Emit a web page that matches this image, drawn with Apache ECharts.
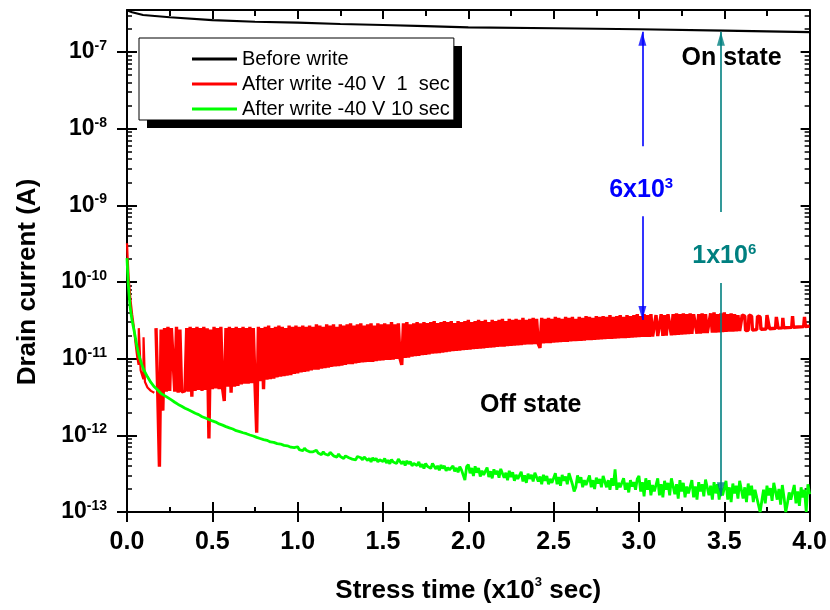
<!DOCTYPE html>
<html><head><meta charset="utf-8">
<script src="https://cdn.jsdelivr.net/npm/echarts@6/dist/echarts.min.js"></script>
<style>html,body{margin:0;padding:0;background:#fff}#c{width:830px;height:610px}</style>
</head><body><div id="c"></div>
<script>
const FONT = 'Arial, "Liberation Sans", sans-serif';

// ---------- axes ----------
const xMin = 0, xMax = 4.0, xInterval = 0.5;          // stress time (x10^3 sec)
const yMin = 1e-13, yMax = 3.53e-7;                   // drain current (A)
const yDecades = [-13, -12, -11, -10, -9, -8, -7];    // tick labels 10^n
const minorMantissas = [2, 3, 4, 5, 6, 7, 8, 9];

const seriesNames = ['Before write', 'After write -40 V  1  sec', 'After write -40 V 10 sec'];

// ---------- Before write: [time, current (A)] ----------
const beforeWrite = [[0, 3.5e-7], [0.03, 3.3e-7], [0.094, 3.04e-7], [0.25, 2.84e-7], [0.5, 2.61e-7],
  [0.75, 2.48e-7], [1.0, 2.41e-7], [1.25, 2.32e-7], [1.5, 2.25e-7], [1.75, 2.18e-7], [2.0, 2.10e-7],
  [2.5, 2.04e-7], [3.0, 1.98e-7], [3.5, 1.90e-7], [4.0, 1.82e-7]];

// ---------- After write -40 V 1 sec ----------
// early decay: [time, current (A)]
const redEarly = [[0.0, 3.2e-10], [0.004, 2.0e-10], [0.010, 1.1e-10], [0.020, 6.0e-11], [0.030, 3.8e-11],
  [0.040, 2.6e-11], [0.050, 1.6e-11], [0.060, 1.05e-11], [0.068, 8.3e-12], [0.069, 2.5e-11], [0.079, 2.5e-11],
  [0.080, 7.0e-12], [0.096, 5.4e-12], [0.097, 1.9e-11], [0.104, 1.9e-11], [0.105, 5.0e-12], [0.12, 4.2e-12],
  [0.14, 3.8e-12], [0.16, 3.6e-12]];
// noisy band sampled every 0.01 from t = 0.17, values in units of 1e-11 A
const redBandStart = 0.17, redBandStep = 0.01;
const redBand = [
  2.5, 0.37, 0.039, 2.4, 0.21, 2.5, 0.37, 2.6, 0.38, 2.5,
  2.5, 0.37, 2.6, 0.36, 2.4, 0.37, 0.37, 0.38, 2.5, 0.37,
  2.6, 0.32, 2.5, 0.38, 2.6, 0.39, 2.5, 0.38, 2.6, 0.39,
  2.5, 0.091, 2.4, 0.40, 2.6, 0.41, 2.5, 0.40, 2.6, 0.41,
  0.28, 2.5, 0.43, 2.6, 0.36, 2.5, 0.43, 2.6, 0.44, 2.5,
  0.46, 2.6, 0.47, 2.5, 0.47, 2.6, 0.48, 2.5, 0.48, 0.108,
  2.6, 0.51, 2.5, 0.40, 2.6, 0.53, 2.7, 0.54, 2.5, 0.55,
  2.6, 0.57, 2.7, 0.58, 2.6, 0.59, 2.5, 0.60, 2.7, 0.61,
  2.6, 0.63, 2.7, 0.64, 2.6, 0.66, 2.7, 0.67, 2.6, 0.68,
  2.7, 0.70, 2.6, 0.72, 2.8, 0.72, 2.7, 0.74, 2.6, 0.75,
  2.8, 0.76, 2.7, 0.78, 2.8, 0.79, 2.6, 0.80, 2.8, 0.81,
  2.7, 0.83, 2.8, 0.85, 2.9, 0.85, 2.7, 0.87, 2.8, 0.88,
  2.9, 0.89, 2.7, 0.90, 2.8, 0.91, 2.9, 0.91, 2.7, 0.93,
  2.9, 0.94, 2.8, 0.95, 2.9, 0.96, 2.8, 0.96, 3.0, 0.97,
  2.8, 0.99, 2.9, 1.0, 0.83, 2.9, 1.02, 3.0, 1.03, 2.8,
  1.06, 2.9, 1.08, 3.0, 1.09, 2.9, 1.11, 3.0, 1.12, 2.9,
  1.14, 3.0, 1.16, 3.1, 1.17, 2.9, 1.18, 3.0, 1.20, 3.1,
  1.22, 3.0, 1.23, 3.1, 1.25, 2.9, 1.26, 3.1, 1.27, 3.0,
  1.29, 3.1, 1.30, 3.2, 1.31, 3.0, 1.33, 3.1, 1.34, 3.2,
  1.35, 3.1, 1.36, 3.2, 1.38, 3.0, 1.39, 3.2, 1.40, 3.1,
  1.42, 3.2, 1.43, 3.3, 1.44, 3.1, 1.46, 3.3, 1.47, 3.2,
  1.48, 3.3, 1.49, 3.2, 1.50, 3.4, 1.52, 3.2, 1.53, 3.3,
  1.54, 3.4, 1.55, 3.3, 1.56, 1.38, 3.4, 1.58, 3.3, 1.59,
  3.4, 1.60, 3.3, 1.62, 3.5, 1.63, 3.4, 1.64, 3.3, 1.65,
  3.5, 1.66, 3.4, 1.68, 3.5, 1.69, 3.3, 1.70, 3.5, 1.71,
  3.4, 1.72, 3.6, 1.74, 3.5, 1.75, 3.4, 1.76, 3.6, 1.77,
  3.5, 1.78, 3.6, 1.80, 3.5, 1.81, 3.7, 1.81, 3.5, 1.83,
  3.6, 1.84, 3.7, 1.85, 3.5, 1.86, 3.7, 1.87, 3.6, 1.88,
  3.7, 1.89, 3.8, 1.91, 3.6, 1.92, 3.8, 1.93, 3.7, 1.93,
  3.8, 1.95, 1.96, 3.7, 1.97, 1.98, 3.8, 1.99, 3.7, 2.00,
  3.8, 3.9, 2.02, 3.8, 2.03, 3.9, 2.05, 3.8, 2.06, 3.9,
  2.07, 3.8, 2.09, 3.9, 2.10, 3.8, 3.9, 2.12, 3.8, 2.13,
  3.9, 2.15, 3.8, 2.16, 2.17, 3.9, 2.18, 4.0, 2.19, 3.8,
  2.21, 3.9, 2.22, 4.0, 2.24, 3.8, 2.25, 3.9, 2.26, 3.8,
  2.28, 3.7, 2.29];
// sparse pulses at the end: [time, current in 1e-11 A]
const redTail = [[3.60, 2.30], [3.605, 3.7], [3.62, 3.6], [3.625, 2.32], [3.64, 2.34], [3.645, 3.7],
  [3.66, 3.6], [3.665, 2.36], [3.69, 2.39], [3.695, 3.6], [3.71, 3.5], [3.715, 2.41], [3.745, 2.44],
  [3.75, 3.7], [3.76, 3.6], [3.765, 2.46], [3.80, 2.49], [3.805, 3.5], [3.81, 3.5], [3.815, 2.50],
  [3.84, 2.52], [3.843, 3.4], [3.848, 2.53], [3.895, 2.56], [3.90, 3.6], [3.905, 2.57], [3.965, 2.62],
  [3.97, 3.5], [3.975, 2.63], [4.0, 2.66]];

// ---------- After write -40 V 10 sec ----------
const greenEarly = [[0.0, 2.05e-10], [0.004, 1.3e-10], [0.008, 9.0e-11], [0.018, 4.8e-11], [0.028, 3.3e-11],
  [0.037, 2.6e-11], [0.047, 2.0e-11], [0.057, 1.5e-11], [0.07, 1.1e-11], [0.085, 8.6e-12], [0.10, 7.0e-12],
  [0.12, 5.8e-12], [0.14, 4.9e-12], [0.16, 4.3e-12], [0.18, 3.9e-12], [0.20, 3.5e-12], [0.23, 3.2e-12],
  [0.26, 2.9e-12], [0.28, 2.7e-12]];
// sampled every 0.02 from t = 0.30 to 0.98, values in units of 1e-13 A
const greenMidStart = 0.30, greenMidStep = 0.02;
const greenMid = [
  25.3, 24.0, 22.6, 21.5, 20.5, 19.4, 18.6, 17.5, 16.8, 16.1,
  15.4, 14.9, 14.1, 13.6, 13.0, 12.5, 12.1, 11.5, 11.2, 10.8,
  10.5, 10.1, 9.8, 9.4, 9.1, 8.8, 8.6, 8.2, 8.1, 7.8,
  7.7, 7.4, 7.3, 7.0, 6.9];
// sampled every 0.01 from t = 1.00 to 4.00, values in units of 1e-13 A
const greenLateStart = 1.00, greenLateStep = 0.01;
const greenLate = [
  7.1, 6.5, 6.8, 6.3, 6.8, 6.4, 6.6, 6.1, 6.4, 6.1,
  6.1, 6.4, 5.9, 6.1, 5.6, 6.1, 5.7, 5.9, 5.5, 6.0,
  5.9, 5.4, 5.6, 5.2, 5.7, 5.3, 5.5, 5.0, 5.4, 5.1,
  5.1, 5.4, 4.9, 5.2, 4.8, 5.3, 5.0, 5.1, 4.8, 5.2,
  5.2, 4.7, 5.0, 4.5, 5.1, 4.7, 5.0, 4.5, 4.8, 4.55,
  4.55, 5.0, 4.35, 4.75, 4.25, 4.85, 4.5, 4.75, 4.3, 4.9,
  4.85, 4.25, 4.6, 4.05, 4.65, 4.25, 4.55, 4.0, 4.3, 4.05,
  4.05, 4.5, 3.85, 4.2, 3.7, 4.3, 3.95, 4.15, 3.7, 4.3,
  4.25, 3.65, 4.0, 3.5, 4.1, 3.7, 4.0, 3.45, 3.8, 3.55,
  3.55, 4.0, 3.4, 3.75, 3.3, 3.9, 3.55, 3.75, 2.6, 3.9,
  4.15, 3.2, 3.75, 2.95, 3.95, 3.25, 3.75, 2.9, 3.45, 3.05,
  3.1, 3.8, 2.85, 3.4, 2.75, 3.6, 3.1, 3.45, 2.8, 3.65,
  3.65, 2.8, 3.25, 2.6, 3.45, 2.85, 3.3, 2.55, 3.05, 2.7,
  2.7, 3.35, 2.5, 3.0, 2.4, 3.15, 2.7, 3.05, 2.5, 3.25,
  3.25, 2.5, 2.9, 2.3, 3.05, 2.55, 2.95, 2.3, 2.7, 2.4,
  2.5, 3.2, 2.3, 2.85, 2.2, 3.05, 2.55, 2.9, 2.3, 3.2,
  3.2, 2.3, 1.85, 2.1, 3.0, 2.4, 2.85, 2.1, 2.6, 2.25,
  2.3, 3.0, 2.1, 2.6, 2.0, 2.8, 2.35, 2.7, 2.1, 2.95,
  2.95, 2.1, 2.6, 1.95, 2.75, 2.2, 3.6, 1.95, 2.4, 2.1,
  2.1, 2.75, 1.95, 2.4, 1.8, 2.6, 2.15, 2.45, 1.95, 2.7,
  2.95, 1.85, 2.45, 1.6, 2.75, 1.95, 2.6, 1.65, 2.25, 1.85,
  1.9, 2.75, 1.65, 2.3, 1.55, 2.55, 1.95, 2.4, 1.65, 2.75,
  2.75, 1.7, 2.3, 1.5, 2.6, 1.85, 2.4, 1.55, 2.15, 1.75,
  1.75, 2.6, 1.55, 2.15, 1.45, 2.45, 1.85, 2.3, 1.6, 2.65,
  2.65, 1.65, 2.2, 1.45, 2.45, 1.75, 2.3, 1.45, 2.05, 1.65,
  1.65, 2.55, 1.45, 2.1, 1.35, 2.35, 1.75, 2.2, 1.5, 2.55,
  2.55, 1.5, 2.1, 1.35, 2.35, 1.65, 2.2, 1.35, 1.95, 1.55,
  1.6, 1.0, 1.4, 1.95, 1.3, 2.2, 1.65, 2.05, 1.4, 2.4,
  2.4, 1.45, 2.0, 1.25, 2.25, 1.55, 1.0, 1.3, 1.8, 1.45,
  1.5, 2.25, 1.3, 1.85, 1.2, 2.1, 1.55, 1.95, 1.0, 2.3,
  1.7];

// ---------- annotations ----------
const arrows = [
  {color: '#0000ff', t: 3.02, from: 5.9e-9, to: 1.84e-7, up: true},
  {color: '#0000ff', t: 3.02, from: 7.2e-10, to: 3.2e-11, up: false},
  {color: '#008080', t: 3.48, from: 8.2e-10, to: 1.84e-7, up: true},
  {color: '#008080', t: 3.48, from: 9.7e-11, to: 1.6e-13, up: false}
];
const notes = [
  {base: '6x10', sup: '3', t: 3.013, v: 1.58e-9, color: '#0000ff'},
  {base: '1x10', sup: '6', t: 3.50, v: 2.19e-10, color: '#008080'},
  {base: 'On state', sup: '', t: 3.543, v: 8.4e-8, color: '#000000'},
  {base: 'Off state', sup: '', t: 2.366, v: 2.48e-12, color: '#000000'}
];

// ---------- build series data ----------
const gridPoints = (vals, start, step, unit) =>
  vals.map((v, i) => [+(start + i * step).toFixed(3), v * unit]);
const redBandData = gridPoints(redBand, redBandStart, redBandStep, 1e-11)
  .concat(redTail.map(p => [p[0], p[1] * 1e-11]));
const greenData = greenEarly
  .concat(gridPoints(greenMid, greenMidStart, greenMidStep, 1e-13))
  .concat(gridPoints(greenLate, greenLateStart, greenLateStep, 1e-13));

const logMin = Math.log10(yMin), logMax = Math.log10(yMax);
const minorVals = [];
yDecades.forEach(e => minorMantissas.forEach(m => {
  const v = e + Math.log10(m);
  if (v < logMax) minorVals.push(v);
}));

const BLACK = '#000';
function overlayY(pos, extra) {
  return Object.assign({
    type: 'value', min: logMin, max: logMax, position: pos,
    splitLine: {show: false}, axisLabel: {show: false},
    axisLine: {show: false, onZero: false}, axisTick: {show: false}
  }, extra);
}

const chart = echarts.init(document.getElementById('c'), null, {renderer: 'canvas'});
const option = {
  animation: false,
  backgroundColor: '#fff',
  textStyle: {fontFamily: FONT},
  grid: {left: 127, top: 10, right: 20, bottom: 98, containLabel: false},
  graphic: [{
    type: 'rect', left: 147, top: 46, z: 1, silent: true,
    shape: {width: 315, height: 82}, style: {fill: '#000'}
  }],
  legend: {
    orient: 'vertical', left: 139, top: 38,
    data: seriesNames,
    icon: 'rect', itemWidth: 45, itemHeight: 3, itemGap: 3,
    padding: [10, 4, 0, 53],
    backgroundColor: '#fff', borderColor: '#000', borderWidth: 1,
    textStyle: {fontFamily: FONT, fontSize: 20, color: '#000', lineHeight: 22},
    selectedMode: false, z: 5
  },
  xAxis: [
    {
      type: 'value', min: xMin, max: xMax, interval: xInterval, position: 'bottom',
      axisLine: {onZero: false, lineStyle: {color: BLACK, width: 2}},
      axisTick: {inside: false, length: 10, lineStyle: {color: BLACK, width: 2}},
      splitLine: {show: false},
      axisLabel: {
        margin: 18, color: BLACK, fontSize: 25, fontWeight: 'bold', fontFamily: FONT,
        formatter: v => v.toFixed(1)
      },
      name: '{b|Stress time (x10}{s|3}{b| sec)}',
      nameLocation: 'middle', nameGap: 64,
      nameTextStyle: {
        rich: {
          b: {fontSize: 26, fontWeight: 'bold', fontFamily: FONT, color: BLACK, lineHeight: 30},
          s: {fontSize: 13, fontWeight: 'bold', fontFamily: FONT, color: BLACK, lineHeight: 13, verticalAlign: 'top'}
        }
      }
    },
    {
      type: 'value', min: xMin, max: xMax, interval: xInterval, position: 'bottom',
      axisLine: {show: false, onZero: false},
      axisTick: {inside: true, length: 10, lineStyle: {color: BLACK, width: 2}},
      minorTick: {show: true, splitNumber: 2, length: 5, lineStyle: {color: BLACK, width: 2}},
      axisLabel: {show: false}, splitLine: {show: false}
    },
    {
      type: 'value', min: xMin, max: xMax, interval: xInterval, position: 'top',
      axisLine: {onZero: false, lineStyle: {color: BLACK, width: 2}},
      axisTick: {inside: true, length: 9, lineStyle: {color: BLACK, width: 2}},
      minorTick: {show: true, splitNumber: 2, length: 6, lineStyle: {color: BLACK, width: 2}},
      axisLabel: {show: false}, splitLine: {show: false}
    }
  ],
  yAxis: [
    {type: 'log', logBase: 10, min: yMin, max: yMax, position: 'left', show: false,
     axisLine: {onZero: false}, splitLine: {show: false}},
    overlayY('left', {
      axisLine: {show: true, onZero: false, lineStyle: {color: BLACK, width: 2}},
      axisTick: {show: true, inside: false, length: 10, customValues: yDecades, lineStyle: {color: BLACK, width: 2}},
      axisLabel: {
        show: true, customValues: yDecades, margin: 20,
        formatter: v => '{b|10}{s|' + Math.round(v) + '}',
        rich: {
          b: {fontSize: 23, fontWeight: 'bold', fontFamily: FONT, color: BLACK, lineHeight: 26},
          s: {fontSize: 14, fontWeight: 'bold', fontFamily: FONT, color: BLACK, lineHeight: 14, verticalAlign: 'top'}
        }
      },
      name: 'Drain current (A)', nameLocation: 'middle', nameGap: 86,
      nameTextStyle: {fontSize: 26, fontWeight: 'bold', fontFamily: FONT, color: BLACK, padding: [0, 42, 0, 0]}
    }),
    overlayY('left', {
      axisTick: {show: true, inside: true, length: 10, customValues: yDecades, lineStyle: {color: BLACK, width: 2}}
    }),
    overlayY('left', {
      axisTick: {show: true, inside: true, length: 5, customValues: minorVals, lineStyle: {color: BLACK, width: 1.5}}
    }),
    overlayY('right', {
      axisLine: {show: true, onZero: false, lineStyle: {color: BLACK, width: 2}},
      axisTick: {show: true, inside: true, length: 9, customValues: yDecades, lineStyle: {color: BLACK, width: 2}}
    }),
    overlayY('right', {
      axisTick: {show: true, inside: true, length: 5, customValues: minorVals, lineStyle: {color: BLACK, width: 1.5}}
    })
  ],
  series: [
    {
      name: seriesNames[0], type: 'line', xAxisIndex: 0, yAxisIndex: 0, data: beforeWrite,
      symbol: 'none', color: '#000000', lineStyle: {color: '#000000', width: 2.2}, z: 3
    },
    {
      name: seriesNames[1], type: 'line', xAxisIndex: 0, yAxisIndex: 0, data: redEarly,
      symbol: 'none', color: '#ff0000', lineStyle: {color: '#ff0000', width: 2.2}, z: 3
    },
    {
      name: seriesNames[1], type: 'line', xAxisIndex: 0, yAxisIndex: 0, data: redBandData,
      symbol: 'none', color: '#ff0000', lineStyle: {color: '#ff0000', width: 3.4}, z: 3
    },
    {
      name: seriesNames[2], type: 'line', xAxisIndex: 0, yAxisIndex: 0, data: greenData,
      symbol: 'none', color: '#00ff00', lineStyle: {color: '#00ff00', width: 2.8}, z: 4
    },
    {
      name: 'arrow lines', type: 'line', xAxisIndex: 0, yAxisIndex: 0, data: [], z: 6,
      markLine: {
        silent: true, animation: false, symbol: ['none', 'none'],
        label: {show: false},
        data: arrows.map(a => [
          {coord: [a.t, a.from], lineStyle: {color: a.color, width: 1.6, type: 'solid'}},
          {coord: [a.t, a.to]}
        ])
      },
      markPoint: {
        silent: true, animation: false,
        symbol: 'circle', symbolSize: 1, itemStyle: {color: 'rgba(0,0,0,0)'},
        data: notes.map(n => ({
          coord: [n.t, n.v],
          label: {
            show: true, position: 'inside',
            formatter: n.sup ? '{big|' + n.base + '}{sup|' + n.sup + '}' : '{big|' + n.base + '}',
            rich: {
              big: {fontSize: 25, fontWeight: 'bold', fontFamily: FONT, color: n.color, lineHeight: 28},
              sup: {fontSize: 15, fontWeight: 'bold', fontFamily: FONT, color: n.color, lineHeight: 15, verticalAlign: 'top'}
            }
          }
        }))
      }
    },
    {
      name: 'arrow heads', type: 'scatter', xAxisIndex: 0, yAxisIndex: 0, z: 7, silent: true,
      symbol: 'triangle', symbolSize: [8, 14],
      data: arrows.map(a => ({
        value: [a.t, a.to],
        symbolRotate: a.up ? 0 : 180,
        symbolOffset: a.up ? [0, 7] : [0, -7],
        itemStyle: {color: a.color}
      }))
    }
  ]
};
chart.setOption(option);
</script>
</body></html>
